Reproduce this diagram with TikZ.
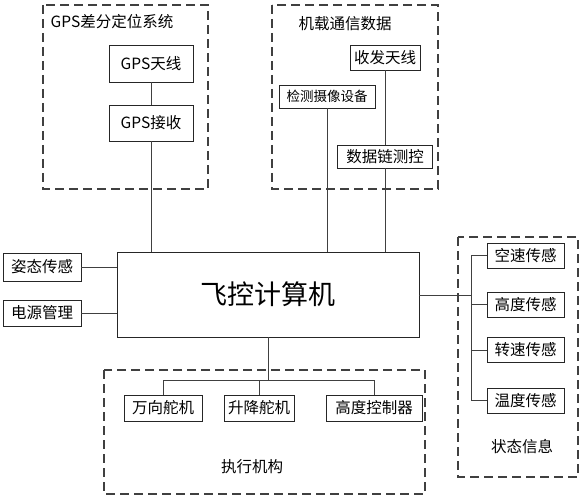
\documentclass[tikz,border=0pt]{standalone}
\usepackage{fontspec}
\setmainfont{Noto Sans CJK SC}
\usepackage{tikz}

\tikzset{
  box/.style={draw=black!85, line width=0.9pt, inner sep=0pt, align=center, font=\fontsize{15.5}{17}\selectfont},
  group/.style={draw=black!75, line width=1.1pt, dash pattern=on 9pt off 5pt},
  wire/.style={draw=black!75, line width=0.9pt},
  grouptitle/.style={font=\fontsize{15.5}{17}\selectfont}
}

\begin{document}
\begin{tikzpicture}[x=1pt, y=-1pt]
        \useasboundingbox (0,0) rectangle (581,500);
        % GPS group
        \draw [group] (43,5) rectangle (208,189);
        \node [grouptitle] (gpstitle) at (112,22) {GPS差分定位系统};
        \node [box, minimum width=84pt, minimum height=37pt] (gpsant) at (151,63.5) {GPS天线};
        \node [box, minimum width=84pt, minimum height=36pt] (gpsrx) at (151,123) {GPS接收};
        % Onboard comm group
        \draw [group] (272,5) rectangle (438,189);
        \node [grouptitle] (commtitle) at (345,24) {机载通信数据};
        \node [box, minimum width=70pt, minimum height=25pt] (txant) at (385,57.5) {收发天线};
        \node [box, minimum width=96pt, minimum height=23pt, font=\fontsize{13.5}{15}\selectfont] (cam) at (327,96.5) {检测摄像设备};
        \node [box, minimum width=95pt, minimum height=23pt] (link) at (385,156.5) {数据链测控};
        % Flight computer
        \node [box, minimum width=302pt, minimum height=85pt, font=\fontsize{27}{30}\selectfont] (fcc) at (268,294.5) {飞控计算机};
        \node [box, minimum width=78pt, minimum height=28pt] (att) at (42,267) {姿态传感};
        \node [box, minimum width=78pt, minimum height=26pt] (pwr) at (42,313) {电源管理};
        % State info group
        \draw [group] (458,237) rectangle (578,477);
        \node [grouptitle] (statetitle) at (522,447) {状态信息};
        \node [box, minimum width=77pt, minimum height=25pt] (s1) at (525.5,255.5) {空速传感};
        \node [box, minimum width=77pt, minimum height=25pt] (s2) at (525.5,304.5) {高度传感};
        \node [box, minimum width=77pt, minimum height=25pt] (s3) at (525.5,350) {转速传感};
        \node [box, minimum width=77pt, minimum height=25pt] (s4) at (525.5,400.5) {温度传感};
        % Actuators group
        \draw [group] (104,370) rectangle (425,494);
        \node [grouptitle] (exectitle) at (252,467) {执行机构};
        \node [box, minimum width=78pt, minimum height=26pt] (a1) at (163,408) {万向舵机};
        \node [box, minimum width=70pt, minimum height=26pt] (a2) at (259,408) {升降舵机};
        \node [box, minimum width=96pt, minimum height=26pt] (a3) at (374,408) {高度控制器};
        % Connections
        \coordinate (sbus) at (471,295);
        \coordinate (abus) at (268,380);
        \draw [wire] (gpsant) -- (gpsrx);
        \draw [wire] (gpsrx.south) -- (gpsrx.south |- fcc.north);
        \draw [wire] (txant.south) -- (link.north);
        \draw [wire] (link.south) -- (link.south |- fcc.north);
        \draw [wire] (cam.south) -- (cam.south |- fcc.north);
        \draw [wire] (att.east) -- (att.east -| fcc.west);
        \draw [wire] (pwr.east) -- (pwr.east -| fcc.west);
        \draw [wire] (fcc.east |- sbus) -- (sbus);
        \draw [wire] (sbus |- s1) -- (sbus |- s4);
        \foreach \s in {s1,s2,s3,s4}
          \draw [wire] (sbus |- \s) -- (\s.west);
        \draw [wire] (fcc.south -| abus) -- (abus);
        \draw [wire] (abus -| a1) -- (abus -| a3);
        \foreach \a in {a1,a2,a3}
          \draw [wire] (abus -| \a) -- (\a.north);
\end{tikzpicture}
\end{document}
